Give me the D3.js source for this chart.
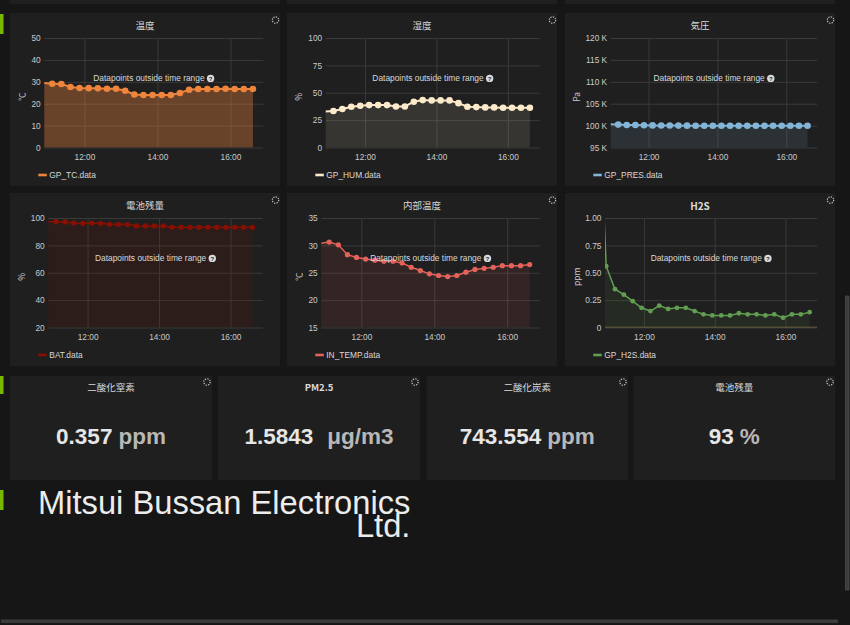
<!DOCTYPE html>
<html><head><meta charset="utf-8">
<script src="https://cdn.jsdelivr.net/npm/d3@7"></script>
<style>
html,body{margin:0;padding:0;background:#161616;overflow:hidden;}
svg{display:block;font-family:"Liberation Sans",Arial,sans-serif;}
</style></head><body>
<svg id="c" width="850" height="625"></svg>
<script>
// ---------------- DATA ----------------
const timeRange = ["10:54", "16:54"];
const timeTickLabels = ["12:00", "14:00", "16:00"];

const sampleTimes = ["10:52","11:07","11:22","11:37","11:52","12:07","12:22","12:37","12:52","13:07","13:22","13:37","13:52",
  "14:07","14:22","14:37","14:52","15:07","15:22","15:37","15:52","16:07","16:22","16:37"];
const h2sTimes = ["10:41","10:56","11:11","11:26","11:41","11:56","12:11","12:26","12:41","12:56","13:11","13:26","13:41",
  "13:56","14:11","14:26","14:41","14:56","15:11","15:26","15:41","15:56","16:11","16:26","16:41"];

// first value of each series lies outside the displayed time range
const tempValues  = [29.45,29.1,29.0,27.6,27.2,27.1,27.0,26.8,26.8,25.9,24.2,24.0,24.0,24.0,24.0,24.9,26.4,26.7,26.7,26.7,26.8,26.7,26.7,26.7];
const humValues   = [32.85,33.3,35.1,37.2,38.1,38.7,38.7,38.7,37.5,37.5,41.8,43.3,43.0,43.0,43.0,40.5,37.2,36.9,36.6,36.6,36.3,36.3,36.3,36.3];
const presValues  = [100300,100230,100150,100120,100080,100040,100030,100010,100000,99990,99980,99970,99970,99970,99970,99970,99970,99970,99970,99970,99970,99970,99970,99970];
const batValues   = [97.5,97.3,97.1,96.4,96.1,96.3,96.1,95.4,95.4,95.4,94.2,94.2,94.2,94.2,93.2,93.2,93.2,93.2,93.2,93.2,93.2,93.2,93.2,93.2];
const inTempValues= [30.35,30.6,30.1,28.3,27.8,27.5,27.3,27.1,27.1,26.8,26.0,25.4,24.8,24.5,24.3,24.5,25.1,25.6,25.8,26.0,26.3,26.3,26.3,26.5];
const h2sValues   = [2.5,0.56,0.35,0.30,0.24,0.18,0.15,0.20,0.17,0.18,0.18,0.15,0.12,0.11,0.11,0.11,0.13,0.12,0.12,0.11,0.12,0.09,0.12,0.12,0.14];

const tempTicks = [0,10,20,30,40,50];
const humTicks = [0,25,50,75,100];
const presTicks = [95000,100000,105000,110000,115000,120000];
const presTickLabels = ["95 K","100 K","105 K","110 K","115 K","120 K"];
const batTicks = [20,40,60,80,100];
const inTempTicks = [15,20,25,30,35];
const h2sTicks = [0,0.25,0.5,0.75,1];
const h2sTickLabels = ["0","0.25","0.50","0.75","1.00"];

const graphTitles = ["温度","湿度","気圧","電池残量","内部温度","H2S"];
const graphUnits = ["℃","%","Pa","%","℃","ppm"];
const legendNames = ["GP_TC.data","GP_HUM.data","GP_PRES.data","BAT.data","IN_TEMP.data","GP_H2S.data"];

const statTitles = ["二酸化窒素","PM2.5","二酸化炭素","電池残量"];
const statValues = ["0.357","1.5843","743.554","93"];
const statUnits  = ["ppm","μg/m3","ppm","%"];

const footerText = ["Mitsui Bussan Electronics","Ltd."];

// ---------------- LAYOUT / STYLE ----------------
const svg = d3.select("#c");
const parse = d3.timeParse("%H:%M");
const PANEL_BG = "#1f1f1f";
const TXT = "#d8d9da";
const GRID = "#3a3a3a";
const CJK = "'Noto Sans CJK JP','Liberation Sans',Arial,sans-serif";

svg.append("rect").attr("width",850).attr("height",625).attr("fill","#161616");

// partially visible row above
[[10,270],[287,270],[565,270]].forEach(([x,w]) =>
  svg.append("rect").attr("x",x).attr("y",0).attr("width",w).attr("height",4).attr("fill",PANEL_BG));

// row markers
[[14,20],[376,18],[490,20]].forEach(([y,h]) =>
  svg.append("rect").attr("x",0).attr("y",y).attr("width",3.5).attr("height",h).attr("fill","#79b800"));

function spinner(cx, cy) {
  svg.append("circle").attr("cx",cx).attr("cy",cy).attr("r",3.2)
    .attr("fill","none").attr("stroke","#d0d0d0").attr("stroke-width",1.1)
    .attr("stroke-dasharray","1.3,1.2");
}

const graphs = [
  {box:{x:10,y:13,w:270,h:173}, left:44.3, right:263.3, times:sampleTimes, values:tempValues, ticks:tempTicks, labels:null, color:"#EF843C", fillOp:0.36, r:3.3, lw:2},
  {box:{x:287,y:13,w:270,h:173}, left:325.7, right:540, times:sampleTimes, values:humValues, ticks:humTicks, labels:null, color:"#FCEACA", fillOp:0.11, r:3.3, lw:2},
  {box:{x:565,y:13,w:270,h:173}, left:610.7, right:817.3, times:sampleTimes, values:presValues, ticks:presTicks, labels:presTickLabels, color:"#82B5D8", fillOp:0.12, r:3.3, lw:2},
  {box:{x:10,y:193,w:270,h:173}, left:48.3, right:262.7, times:sampleTimes, values:batValues, ticks:batTicks, labels:null, color:"#890F02", fillOp:0.12, r:2.6, lw:1.5},
  {box:{x:287,y:193,w:270,h:173}, left:321.3, right:540, times:sampleTimes, values:inTempValues, ticks:inTempTicks, labels:null, color:"#E5625A", fillOp:0.1, r:2.6, lw:1.5},
  {box:{x:565,y:193,w:270,h:173}, left:605, right:817.3, times:h2sTimes, values:h2sValues, ticks:h2sTicks, labels:h2sTickLabels, color:"#629E51", fillOp:0.1, r:2.4, lw:1.5}
];

graphs.forEach((p, i) => {
  const b = p.box;
  const top = b.y + 25, bottom = b.y + 134.5;
  svg.append("rect").attr("x",b.x).attr("y",b.y).attr("width",b.w).attr("height",b.h).attr("fill",PANEL_BG);
  svg.append("text").attr("x",b.x+b.w/2).attr("y",b.y+12).attr("text-anchor","middle")
    .attr("dominant-baseline","central").attr("fill",TXT)
    .attr("font-size", i===5 ? 10 : 9.5).attr("font-weight", i===5 ? "bold" : "normal")
    .attr("font-family", CJK).text(graphTitles[i]);
  spinner(b.x+b.w-4.5, b.y+7);

  const x = d3.scaleTime().domain(timeRange.map(parse)).range([p.left, p.right]);
  const y = d3.scaleLinear().domain([p.ticks[0], p.ticks[p.ticks.length-1]]).range([bottom, top]);

  const ya = d3.axisLeft(y).tickValues(p.ticks).tickSize(-(p.right-p.left)).tickPadding(3.6)
    .tickFormat((d,k) => p.labels ? p.labels[k] : d3.format("~g")(d));
  const gy = svg.append("g").attr("transform",`translate(${p.left},0)`).call(ya);
  const xa = d3.axisBottom(x).tickValues(timeTickLabels.map(parse)).tickSize(-(bottom-top)).tickPadding(7)
    .tickFormat(d3.timeFormat("%H:%M"));
  const gx = svg.append("g").attr("transform",`translate(0,${bottom})`).call(xa);
  [gx, gy].forEach(g => {
    g.select(".domain").remove();
    g.selectAll("line").attr("stroke",GRID).attr("stroke-width",1);
    g.selectAll("text").attr("fill","#cacaca").attr("font-size",8.3).attr("font-family","'Liberation Sans',Arial,sans-serif");
  });

  svg.append("text").attr("transform",`translate(${b.x+10.8},${(top+bottom)/2+4}) rotate(-90)`)
    .attr("text-anchor","middle").attr("dominant-baseline","central").attr("fill","#cacaca")
    .attr("font-size",8.5).attr("font-family",CJK).text(graphUnits[i]);

  const clipId = "clip"+i;
  svg.append("clipPath").attr("id",clipId).append("rect")
    .attr("x",p.left).attr("y",top-4).attr("width",p.right-p.left).attr("height",bottom-top+4);

  const data = p.times.map((t,k) => ({t:parse(t), v:p.values[k]}));
  const pg = svg.append("g").attr("clip-path",`url(#${clipId})`);
  pg.append("path").datum(data).attr("fill",p.color).attr("fill-opacity",p.fillOp)
    .attr("d", d3.area().x(d=>x(d.t)).y0(bottom).y1(d=>y(d.v)));
  if (i === 5) {
    pg.append("line").attr("x1",p.left).attr("x2",p.right).attr("y1",y(0)).attr("y2",y(0))
      .attr("stroke","#7f6c45").attr("stroke-width",1.6);
  }
  pg.append("path").datum(data).attr("fill","none").attr("stroke",p.color).attr("stroke-width",p.lw)
    .attr("d", d3.line().x(d=>x(d.t)).y(d=>y(d.v)));
  pg.selectAll("circle.pt").data(data.slice(1)).join("circle").attr("class","pt")
    .attr("cx",d=>x(d.t)).attr("cy",d=>y(d.v)).attr("r",p.r).attr("fill",p.color);

  // datapoints warning
  const wg = svg.append("g");
  const wt = wg.append("text").attr("x",0).attr("y",0).attr("dominant-baseline","central")
    .attr("fill",TXT).attr("font-size",8.4).text("Datapoints outside time range");
  const tw = wt.node().getComputedTextLength();
  wg.append("circle").attr("cx",tw+6).attr("cy",0).attr("r",3.7).attr("fill",TXT);
  wg.append("text").attr("x",tw+6).attr("y",0.3).attr("text-anchor","middle").attr("dominant-baseline","central")
    .attr("font-size",6).attr("font-weight","bold").attr("fill","#1f1f1f").text("?");
  const cx = (p.left+p.right)/2;
  wg.attr("transform",`translate(${cx-(tw+9.7)/2},${top+40.4})`);

  // legend
  const ly = b.y + 162;
  svg.append("rect").attr("x",b.x+28.3).attr("y",ly-1.3).attr("width",8.5).attr("height",2.6).attr("fill",p.color);
  svg.append("text").attr("x",b.x+39.3).attr("y",ly).attr("dominant-baseline","central")
    .attr("fill",TXT).attr("font-size",8.4).text(legendNames[i]);
});

// ---------------- STAT PANELS ----------------
const statBoxes = [[10,202],[218,202],[426.5,201.5],[633.5,201.5]];
statBoxes.forEach(([sx,sw], i) => {
  const sy = 376, sh = 104;
  svg.append("rect").attr("x",sx).attr("y",sy).attr("width",sw).attr("height",sh).attr("fill",PANEL_BG);
  svg.append("text").attr("x",sx+sw/2).attr("y",sy+10.7).attr("text-anchor","middle").attr("dominant-baseline","central")
    .attr("fill",TXT).attr("font-size",9.5).attr("font-weight", i===1 ? "bold" : "normal")
    .attr("font-family",CJK).text(statTitles[i]);
  spinner(sx+sw-5, sy+6);
  const t = svg.append("text").attr("x",sx+sw/2).attr("y",sy+68).attr("text-anchor","middle")
    .attr("font-size",22.5).attr("font-weight","bold");
  t.append("tspan").attr("fill","#e6e6e6").text(statValues[i]);
  t.append("tspan").attr("dx", i===1 ? 14 : 6).attr("fill","#b8b8b8").text(statUnits[i]);
});

// ---------------- FOOTER TEXT ----------------
const f1 = svg.append("text").attr("x",38).attr("y",514).attr("fill","#ececec").attr("font-size",32.7).text(footerText[0]);
const fw = f1.node().getComputedTextLength();
svg.append("text").attr("x",38+fw).attr("y",537).attr("text-anchor","end").attr("fill","#ececec").attr("font-size",32.7).text(footerText[1]);

// ---------------- SCROLLBARS ----------------
svg.append("rect").attr("x",845.5).attr("y",296).attr("width",3.5).attr("height",294)
  .attr("fill","#3c3c3c").attr("stroke","#555").attr("stroke-width",0.6);
svg.append("rect").attr("x",1).attr("y",619.5).attr("width",837).attr("height",3.5)
  .attr("fill","#3c3c3c").attr("stroke","#2a2a2a").attr("stroke-width",0.6);
</script>
</body></html>
